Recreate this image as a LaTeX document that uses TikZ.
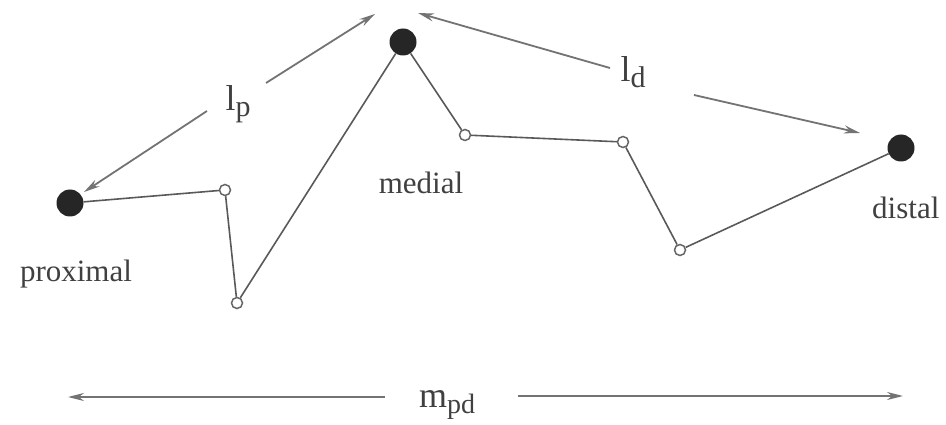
\documentclass[tikz,border=0pt]{standalone}
\usepackage{fontspec}
\setmainfont{Liberation Serif}
\usetikzlibrary{arrows.meta}
\begin{document}
\begin{tikzpicture}[x=1pt,y=-1pt,
  bigdot/.style={circle,fill=black!85,draw=none,minimum size=27pt,inner sep=0pt},
  smalldot/.style={circle,fill=white,draw=black!60,line width=1.5pt,minimum size=11pt,inner sep=0pt},
  link/.style={draw=black!65,line width=1.6pt},
  dimarrow/.style={draw=black!55,line width=1.8pt,-{Stealth[length=16pt,width=8pt]}},
  lbl/.style={font=\fontsize{31}{34}\selectfont,text=black!75,inner sep=0pt},
  sym/.style={font=\fontsize{36}{40}\selectfont,text=black!75,inner sep=0pt}]
\useasboundingbox (0,0) rectangle (946,425);
% joints
\node[bigdot] (prox) at (70,203) {};
\node[smalldot] (a) at (225,190) {};
\node[smalldot] (b) at (237,303) {};
\node[bigdot] (med) at (403,42) {};
\node[smalldot] (c) at (465,135) {};
\node[smalldot] (d) at (623,142) {};
\node[smalldot] (e) at (680,250) {};
\node[bigdot] (dist) at (901,148) {};
% links
\draw[link] (prox) -- (a) -- (b) -- (med) -- (c) -- (d) -- (e) -- (dist);
% labels
\node[lbl] (lprox) at (76,274) {proximal};
\node[lbl] (lmed) at (421,183) {medial};
\node[lbl,anchor=west] (ldist) at (872,208) {distal};
% dimension labels
\node[sym] (lp) at (238,104) {l\raisebox{-0.35ex}{\fontsize{30}{32}\selectfont p}};
\node[sym] (ld) at (633,72) {l\raisebox{-0.35ex}{\fontsize{30}{32}\selectfont d}};
\node[sym] (mpd) at (447,405) {m\raisebox{-0.35ex}{\fontsize{28}{30}\selectfont pd}};
% dimension arrows
\coordinate (lpA) at (207,111);
\coordinate (lpT1) at (84,192);
\coordinate (lpB) at (266,83);
\coordinate (lpT2) at (375,14);
\coordinate (ldA) at (610,68);
\coordinate (ldT1) at (418,13);
\coordinate (ldB) at (694,95);
\coordinate (ldT2) at (860,133);
\coordinate (mA) at (385,397);
\coordinate (mT1) at (68,397);
\coordinate (mB) at (518,396);
\coordinate (mT2) at (903,396);
\draw[dimarrow] (lpA) -- (lpT1);
\draw[dimarrow] (lpB) -- (lpT2);
\draw[dimarrow] (ldA) -- (ldT1);
\draw[dimarrow] (ldB) -- (ldT2);
\draw[dimarrow] (mA) -- (mT1);
\draw[dimarrow] (mB) -- (mT2);
\end{tikzpicture}
\end{document}
